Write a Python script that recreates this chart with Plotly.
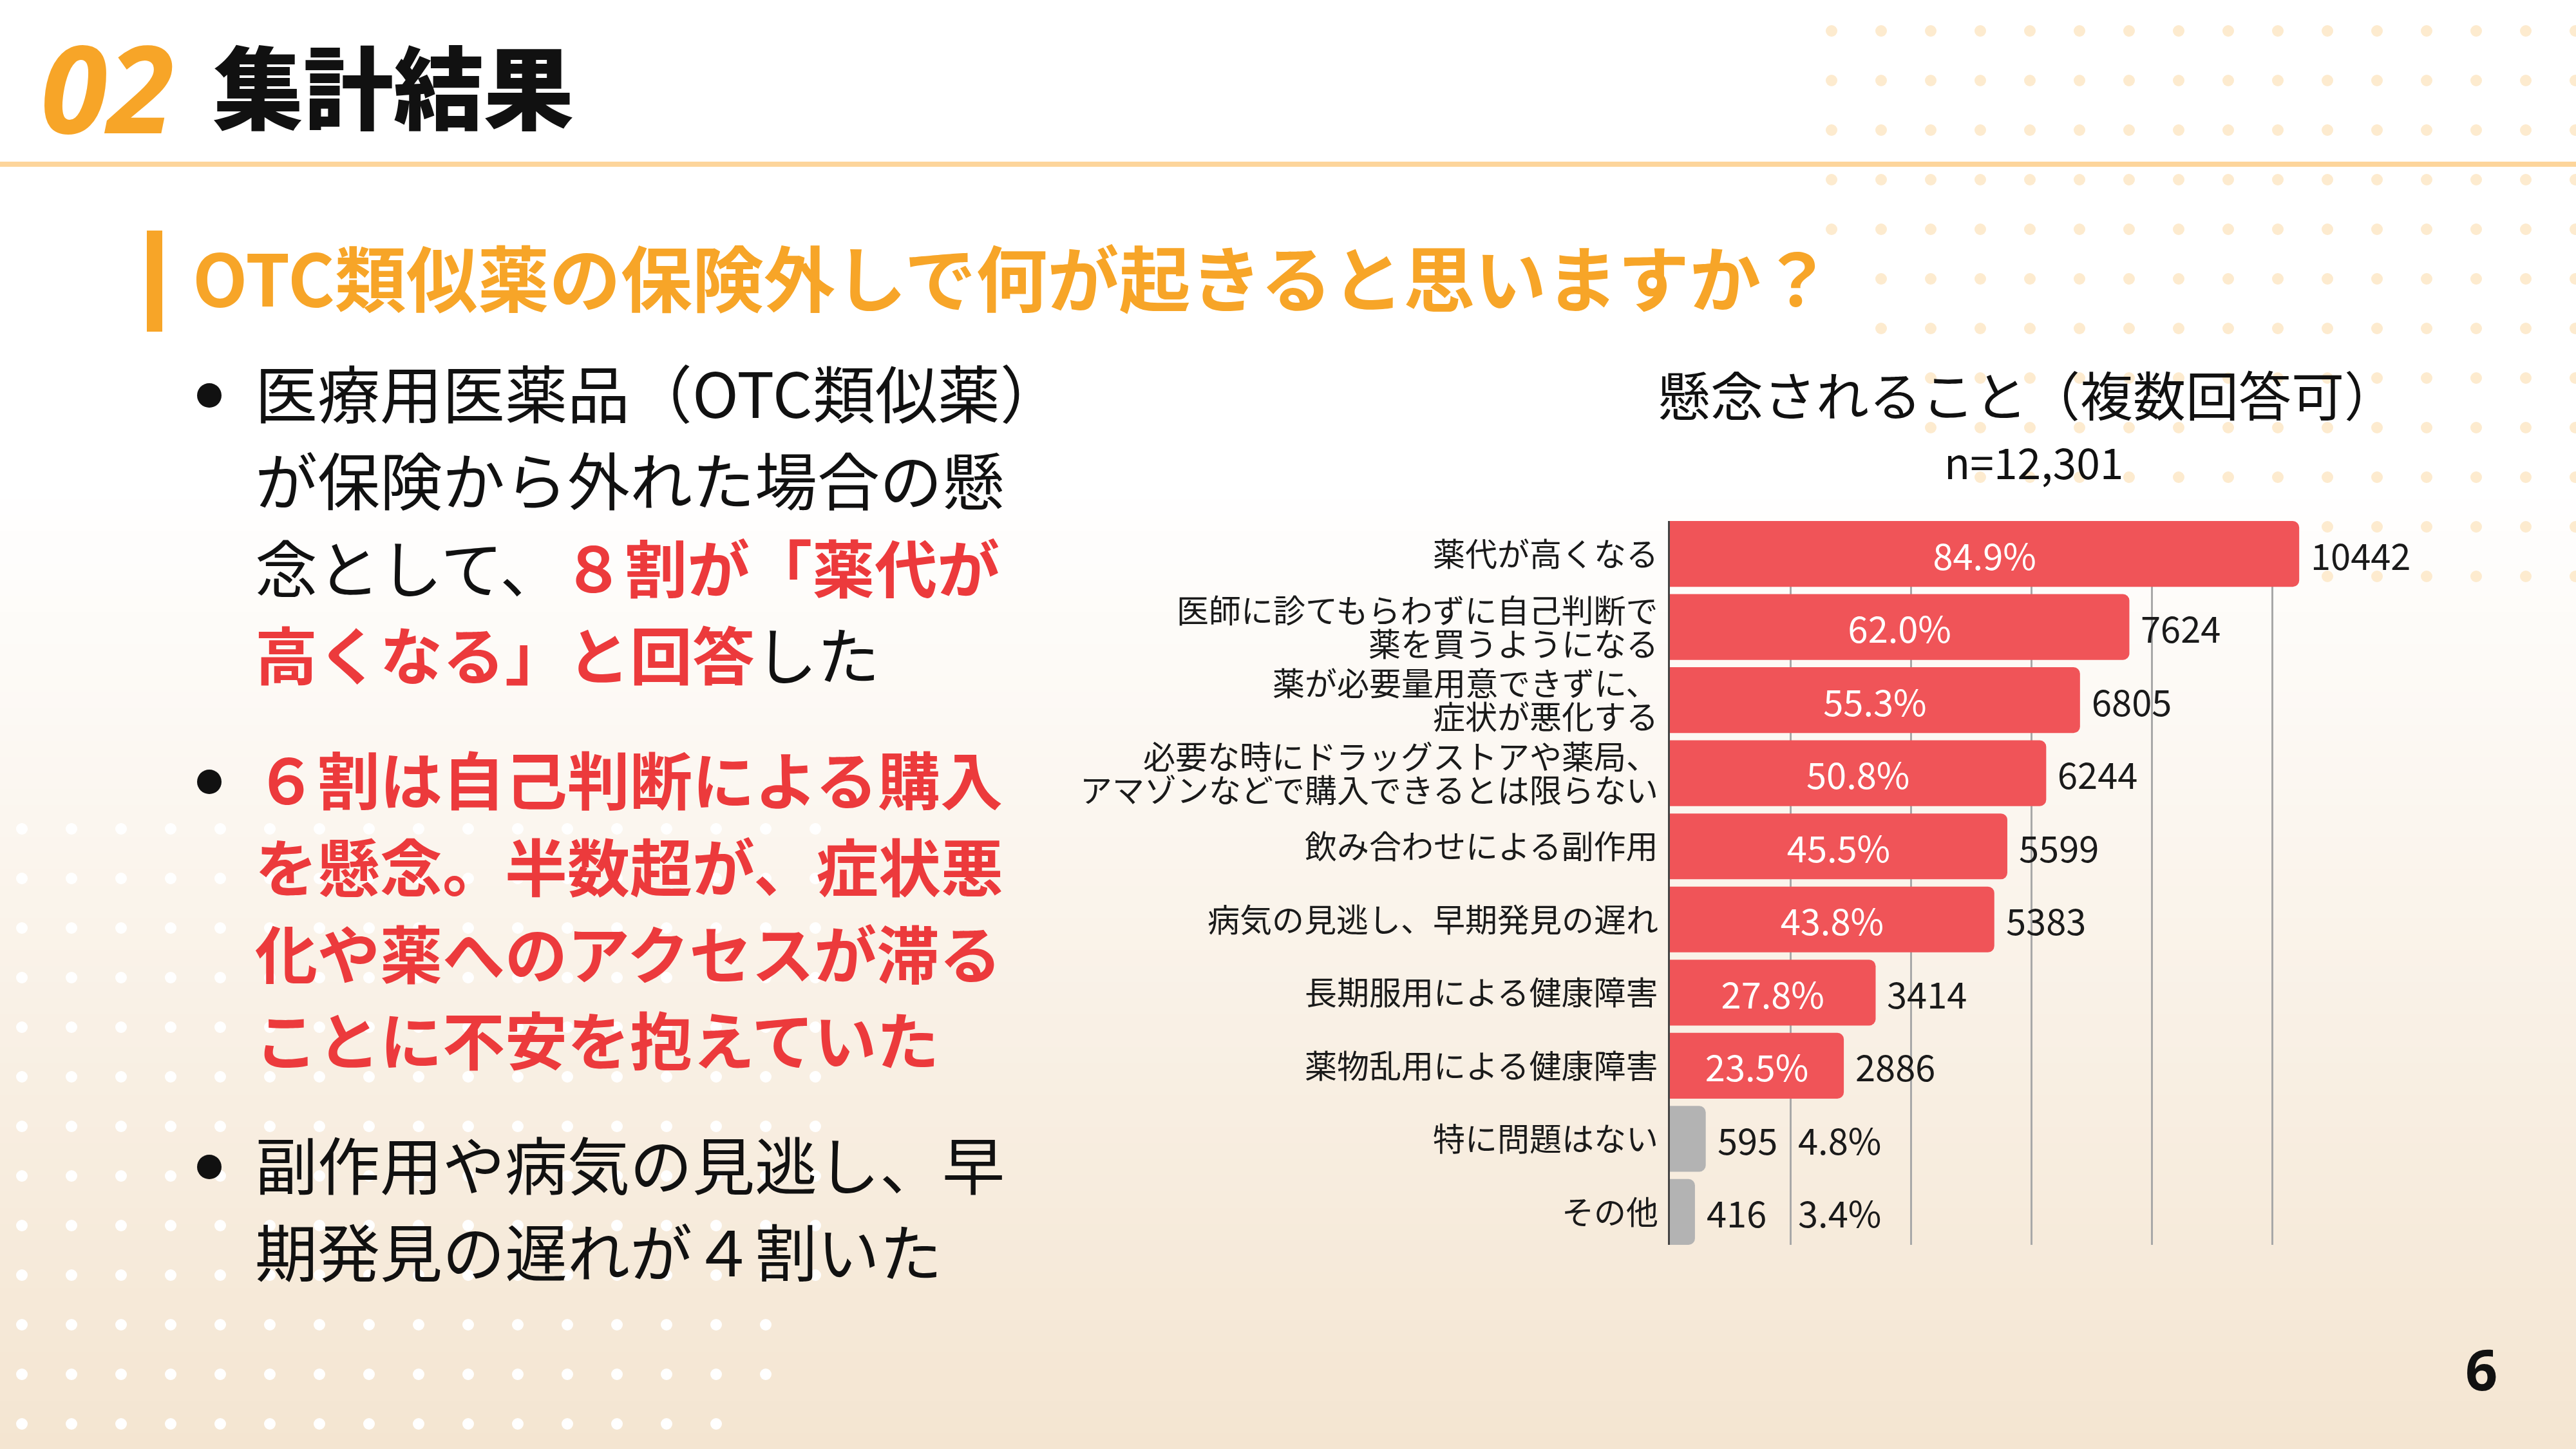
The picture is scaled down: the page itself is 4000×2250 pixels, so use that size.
import plotly.graph_objects as go

# ---- data ----
categories = [
    "薬代が高くなる",
    "医師に診てもらわずに自己判断で<br>薬を買うようになる",
    "薬が必要量用意できずに、<br>症状が悪化する",
    "必要な時にドラッグストアや薬局、<br>アマゾンなどで購入できるとは限らない",
    "飲み合わせによる副作用",
    "病気の見逃し、早期発見の遅れ",
    "長期服用による健康障害",
    "薬物乱用による健康障害",
    "特に問題はない",
    "その他",
]
counts = [10442, 7624, 6805, 6244, 5599, 5383, 3414, 2886, 595, 416]
percents = [84.9, 62.0, 55.3, 50.8, 45.5, 43.8, 27.8, 23.5, 4.8, 3.4]
groups = ["concern"] * 8 + ["none"] * 2

W, H = 4000, 2250
FONT = "Noto Sans CJK JP"
ORANGE = "#F7A528"
RED_TEXT = "#EC3A3C"
BAR_RED = "#F05458"
BAR_GREY = "#B3B3B3"


def px(x):
    return x / W


def py(y):
    return 1 - y / H


bar_colors = [BAR_RED if g == "concern" else BAR_GREY for g in groups]
inside_text = [f"{p:.1f}%" if g == "concern" else "" for p, g in zip(percents, groups)]

fig = go.Figure()

fig.add_trace(go.Bar(
    x=counts, y=categories, orientation="h",
    marker=dict(color=bar_colors, line=dict(width=0)),
    text=inside_text, textposition="inside", insidetextanchor="middle",
    textangle=0,
    textfont=dict(family=FONT, size=56, color="white"),
    hoverinfo="skip", showlegend=False,
))

shapes = []

# background gradient (white -> beige)
top_c = (255, 255, 255)
bot_c = (244, 229, 209)
g_start, n_strips = 750, 60
step = (H - g_start) / n_strips
for k in range(n_strips):
    t = (k + 0.5) / n_strips
    c = tuple(int(round(a + (b - a) * t)) for a, b in zip(top_c, bot_c))
    y0 = g_start + k * step
    shapes.append(dict(type="rect", xref="paper", yref="paper", layer="below",
                       x0=0, x1=1, y0=py(y0 + step + 1), y1=py(y0),
                       fillcolor=f"rgb{c}", line=dict(width=0)))

# dot pattern, top right (peach)
start_cols = [0, 0, 0, 0, 0, 1, 1, 2, 2, 3, 4, 5]
r = 9
for j, sc in enumerate(start_cols):
    cy = 48 + 77 * j
    for i in range(sc, 16):
        cx = 2844 + 77 * i
        shapes.append(dict(type="circle", xref="paper", yref="paper", layer="below",
                           x0=px(cx - r), x1=px(cx + r), y0=py(cy + r), y1=py(cy - r),
                           fillcolor="#FDEBCF", line=dict(width=0)))

# dot pattern, bottom left (white)
end_cols = [16] * 10 + [15, 15, 14]
for j, ec in enumerate(end_cols):
    cy = 1287 + 77 * j
    for i in range(0, ec + 1):
        cx = 34 + 77 * i
        shapes.append(dict(type="circle", xref="paper", yref="paper", layer="below",
                           x0=px(cx - r), x1=px(cx + r), y0=py(cy + r), y1=py(cy - r),
                           fillcolor="white", line=dict(width=0)))

# header rule and subtitle bar
shapes.append(dict(type="line", xref="paper", yref="paper",
                   x0=0, x1=1, y0=py(255), y1=py(255),
                   line=dict(color="#FDD59B", width=8)))
shapes.append(dict(type="rect", xref="paper", yref="paper",
                   x0=px(228), x1=px(252), y0=py(515), y1=py(358),
                   fillcolor=ORANGE, line=dict(width=0)))

# bullets
for cy in [614, 1214, 1812]:
    shapes.append(dict(type="circle", xref="paper", yref="paper",
                       x0=px(325 - 19), x1=px(325 + 19), y0=py(cy + 19), y1=py(cy - 19),
                       fillcolor="#111111", line=dict(width=0)))

annotations = []


def text(x, y, s, size, color="#111111", weight=400, anchor="left", family=FONT, style="normal"):
    # nudge up a little: the text box centre sits below the glyph centre
    annotations.append(dict(
        x=px(x), y=py(y - 0.08 * size), xref="paper", yref="paper", text=s, showarrow=False,
        xanchor=anchor, yanchor="middle", borderpad=0,
        font=dict(family=family, size=size, color=color, weight=weight, style=style),
    ))


# header
text(62, 149, "02\u00a0", 188, color=ORANGE, weight=700, family="Noto Sans", style="italic")
text(330, 140, "集計結果", 140, weight=900)
text(298, 436, "OTC類似薬の保険外しで何が起きると思いますか？", 111, color=ORANGE, weight=700)

# left bullet text
red = lambda s: f"<span style='color:{RED_TEXT}'><b>{s}</b></span>"
left_lines = [
    (614, "医療用医薬品（OTC類似薬）"),
    (749, "が保険から外れた場合の懸"),
    (885, "念として、" + red("８割が「薬代が")),
    (1020, red("高くなる」と回答") + "した"),
    (1214, red("６割は自己判断による購入")),
    (1349, red("を懸念。半数超が、症状悪")),
    (1484, red("化や薬へのアクセスが滞る")),
    (1618, red("ことに不安を抱えていた")),
    (1812, "副作用や病気の見逃し、早"),
    (1947, "期発見の遅れが４割いた"),
]
for y, s in left_lines:
    text(395, y, s, 97)

# chart title
text(3148, 617, "懸念されること（複数回答可）", 82, anchor="center")
text(3158, 720, "n=12,301", 66, anchor="center")

# page number
text(3853, 2132, "6", 88, weight=700, anchor="center", family="Noto Sans")

# category labels (drawn per line so that the line spacing stays tight)
line_h = 52
for cat in categories:
    parts = cat.split("<br>")
    n = len(parts)
    for k, part in enumerate(parts):
        annotations.append(dict(
            x=0, y=cat, xref="x", yref="y", text=part, showarrow=False,
            xanchor="right", yanchor="middle", xshift=-16,
            yshift=((n - 1) / 2 - k) * line_h + 3,
            font=dict(family=FONT, size=50, color="#1A1A1A"),
        ))

# value labels
for cat, c, p, g in zip(categories, counts, percents, groups):
    annotations.append(dict(
        x=c, y=cat, xref="x", yref="y", text=str(c), showarrow=False,
        xanchor="left", yanchor="middle", xshift=16,
        font=dict(family=FONT, size=56, color="#1A1A1A"),
    ))
    if g == "none":
        annotations.append(dict(
            x=2000, y=cat, xref="x", yref="y", text=f"{p:.1f}%", showarrow=False,
            xanchor="left", yanchor="middle", xshift=10,
            font=dict(family=FONT, size=56, color="#1A1A1A"),
        ))

fig.update_layout(
    width=W, height=H,
    margin=dict(l=0, r=0, t=0, b=0),
    paper_bgcolor="white",
    plot_bgcolor="rgba(0,0,0,0)",
    bargap=0.1,
    barcornerradius=10,
    shapes=shapes,
    annotations=annotations,
    font=dict(family=FONT, color="#1A1A1A"),
    xaxis=dict(
        domain=[px(2593), px(3716)], range=[0, 12000], dtick=2000,
        showgrid=True, gridcolor="#A8A8A8", gridwidth=3,
        zeroline=False, showticklabels=False, showline=False, fixedrange=True,
    ),
    yaxis=dict(
        domain=[py(1933), py(809)], range=[9.45, -0.45],
        type="category", showline=True, linecolor="#444444", linewidth=3,
        showgrid=False, ticks="", showticklabels=False,
        fixedrange=True,
    ),
)

fig.write_html("out.html", config={"displayModeBar": False},
               post_script="document.body.style.margin='0';document.body.style.overflow='hidden';")
